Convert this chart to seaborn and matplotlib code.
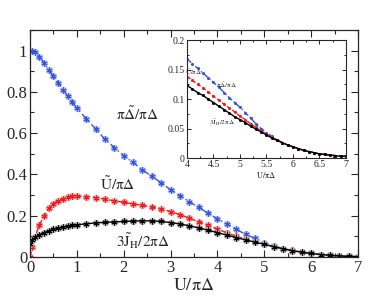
import numpy as np
import pandas as pd
import matplotlib
matplotlib.use("Agg")
import matplotlib.pyplot as plt
import seaborn as sns
from matplotlib.ticker import MultipleLocator

sns.set_style("ticks")
plt.rcParams['font.family'] = ['Liberation Serif', 'DejaVu Serif']
plt.rcParams['mathtext.fontset'] = 'stix'

# main panel data
U = [0.0, 0.05, 0.1, 0.2, 0.3, 0.4, 0.5, 0.6, 0.7, 0.8, 0.9, 1.0,
     1.2, 1.4, 1.6, 1.8, 2.0, 2.2, 2.4, 2.6, 2.8, 3.0, 3.2, 3.4, 3.6, 3.8,
     4.0, 4.2, 4.4, 4.6, 4.8, 5.0, 5.2, 5.4, 5.6, 5.8, 6.0, 6.2, 6.4, 6.6, 6.8, 7.0]
delta = [1.0, 1.0, 0.995, 0.97, 0.94, 0.905, 0.875, 0.845, 0.81, 0.78, 0.75, 0.72,
         0.67, 0.62, 0.57, 0.53, 0.49, 0.458, 0.422, 0.39, 0.36, 0.325, 0.297, 0.268, 0.24, 0.212,
         0.185, 0.16, 0.134, 0.11, 0.09, 0.07, 0.054, 0.041, 0.032, 0.024, 0.018, 0.012, 0.008, 0.005, 0.003, 0.002]
utilde = [0.0, 0.05, 0.095, 0.155, 0.2, 0.235, 0.258, 0.273, 0.283, 0.29, 0.294, 0.295,
          0.293, 0.288, 0.28, 0.272, 0.265, 0.257, 0.25, 0.242, 0.233, 0.22, 0.205, 0.188, 0.17, 0.153,
          0.135, 0.117, 0.1, 0.086, 0.073, 0.062, 0.05, 0.04, 0.031, 0.023, 0.017, 0.012, 0.008, 0.005, 0.003, 0.002]
jh = [0.065, 0.082, 0.095, 0.108, 0.118, 0.127, 0.134, 0.14, 0.145, 0.149, 0.153, 0.156,
      0.161, 0.165, 0.168, 0.17, 0.172, 0.174, 0.175, 0.175, 0.172, 0.167, 0.16, 0.151, 0.141, 0.13,
      0.118, 0.106, 0.094, 0.083, 0.072, 0.062, 0.05, 0.04, 0.031, 0.023, 0.017, 0.012, 0.008, 0.005, 0.003, 0.002]

# inset data
U_in = [4.0, 4.1, 4.2, 4.3, 4.4, 4.5, 4.6, 4.7, 4.8, 4.9, 5.0, 5.1, 5.2, 5.3, 5.4, 5.5,
        5.6, 5.7, 5.8, 5.9, 6.0, 6.1, 6.2, 6.3, 6.4, 6.5, 6.6, 6.7, 6.8, 6.9, 7.0]
delta_in = [0.168, 0.16, 0.152, 0.144, 0.136, 0.128, 0.12, 0.111, 0.102, 0.094, 0.086, 0.077, 0.068, 0.058, 0.05, 0.043,
            0.037, 0.031, 0.026, 0.022, 0.019, 0.016, 0.013, 0.011, 0.009, 0.007, 0.006, 0.005, 0.004, 0.003, 0.003]
utilde_in = [0.138, 0.132, 0.125, 0.119, 0.112, 0.105, 0.098, 0.091, 0.085, 0.078, 0.071, 0.065, 0.058, 0.052, 0.046, 0.04,
             0.035, 0.03, 0.026, 0.022, 0.019, 0.016, 0.013, 0.011, 0.009, 0.007, 0.006, 0.005, 0.004, 0.003, 0.003]
jh_in = [0.123, 0.117, 0.111, 0.106, 0.1, 0.094, 0.088, 0.082, 0.076, 0.07, 0.065, 0.06, 0.054, 0.049, 0.044, 0.039,
         0.034, 0.03, 0.026, 0.022, 0.019, 0.016, 0.013, 0.011, 0.009, 0.007, 0.006, 0.005, 0.004, 0.003, 0.003]

BLUE, BLUE_L = '#3355e0', '#b4c0f4'
RED, RED_L = '#ee1c1c', '#f7a8a8'
BLACK, BLACK_L = 'black', '#b0b0b0'
STAR = (6, 2, 0)

fig = plt.figure(figsize=(3.9, 3.02), dpi=100)
ax = fig.add_axes([0.077, 0.149, 0.841, 0.752])

series = [(delta, BLUE, BLUE_L, (0, (5, 2, 1, 2))),
          (utilde, RED, RED_L, (0, (4, 2))),
          (jh, BLACK, BLACK_L, '-')]
for y, c, cl, ls in series:
    # light halo under the stars
    sns.lineplot(x=U, y=y, ax=ax, color=cl, linewidth=0, marker=STAR,
                 markersize=5, markeredgewidth=2.0, markeredgecolor=cl, sort=False)
    sns.lineplot(x=U, y=y, ax=ax, color=c, linewidth=1.0, linestyle=ls, marker=STAR,
                 markersize=4.2, markeredgewidth=0.7, markeredgecolor=c, sort=False)

ax.set_xlim(0, 7)
ax.set_ylim(0, 1.1)
ax.xaxis.set_major_locator(MultipleLocator(1))
ax.xaxis.set_minor_locator(MultipleLocator(0.5))
ax.yaxis.set_major_locator(MultipleLocator(0.2))
ax.yaxis.set_minor_locator(MultipleLocator(0.1))
ax.set_yticks([0, 0.2, 0.4, 0.6, 0.8, 1.0])
ax.set_yticklabels(['0', '0.2', '0.4', '0.6', '0.8', '1'])
ax.tick_params(which='both', direction='in', top=True, right=True, labelsize=12, pad=2)
ax.tick_params(which='major', length=5, width=0.8)
ax.tick_params(which='minor', length=3, width=0.8)
for s in ax.spines.values():
    s.set_linewidth(0.9)
ax.set_xlabel(r'$\mathrm{U/\pi\Delta}$', fontsize=13, labelpad=1)
ax.set_ylabel('')

ax.text(2.3, 0.69, r'$\mathrm{\pi\tilde{\Delta}/\pi\Delta}$', fontsize=11, ha='center', va='center')
ax.text(1.87, 0.355, r'$\mathrm{\tilde{U}/\pi\Delta}$', fontsize=11, ha='center', va='center')
ax.text(2.4, 0.075, r'$\mathrm{3\tilde{J}_H/2\pi\Delta}$', fontsize=11, ha='center', va='center')

# inset
axi = fig.add_axes([0.4795, 0.4768, 0.4075, 0.3907])
inset_series = [(delta_in, BLUE, (0, (4, 1.5, 1, 1.5))),
                (utilde_in, RED, (0, (3, 1.5))),
                (jh_in, BLACK, '-')]
for y, c, ls in inset_series:
    sns.lineplot(x=U_in, y=y, ax=axi, color=c, linewidth=1.0, linestyle=ls, marker='o',
                 markersize=2.2, markeredgewidth=0, markeredgecolor=c, sort=False)
axi.set_xlim(4, 7)
axi.set_ylim(0, 0.2)
axi.xaxis.set_major_locator(MultipleLocator(0.5))
axi.xaxis.set_minor_locator(MultipleLocator(0.25))
axi.yaxis.set_major_locator(MultipleLocator(0.05))
axi.yaxis.set_minor_locator(MultipleLocator(0.025))
axi.set_xticks([4, 4.5, 5, 5.5, 6, 6.5, 7])
axi.set_xticklabels(['4', '4.5', '5', '5.5', '6', '6.5', '7'])
axi.set_yticks([0, 0.05, 0.1, 0.15, 0.2])
axi.set_yticklabels(['0', '0.05', '0.1', '0.15', '0.2'])
axi.tick_params(which='both', direction='in', top=True, right=True, labelsize=7, pad=1.5)
axi.tick_params(which='major', length=3, width=0.7)
axi.tick_params(which='minor', length=1.5, width=0.7)
for s in axi.spines.values():
    s.set_linewidth(0.8)
axi.set_xlabel(r'$\mathrm{U/\pi\Delta}$', fontsize=6, labelpad=1)
axi.set_ylabel('')
axi.text(4.12, 0.146, r'$\mathrm{\tilde{U}/\pi\Delta}$', fontsize=5, ha='center', va='center')
axi.text(4.75, 0.124, r'$\mathrm{\pi\tilde{\Delta}/\pi\Delta}$', fontsize=5, ha='center', va='center')
axi.text(4.65, 0.059, r'$\mathrm{3\tilde{J}_H/2\pi\Delta}$', fontsize=5, ha='center', va='center')

plt.savefig('out.png', dpi=100)
plt.close()
